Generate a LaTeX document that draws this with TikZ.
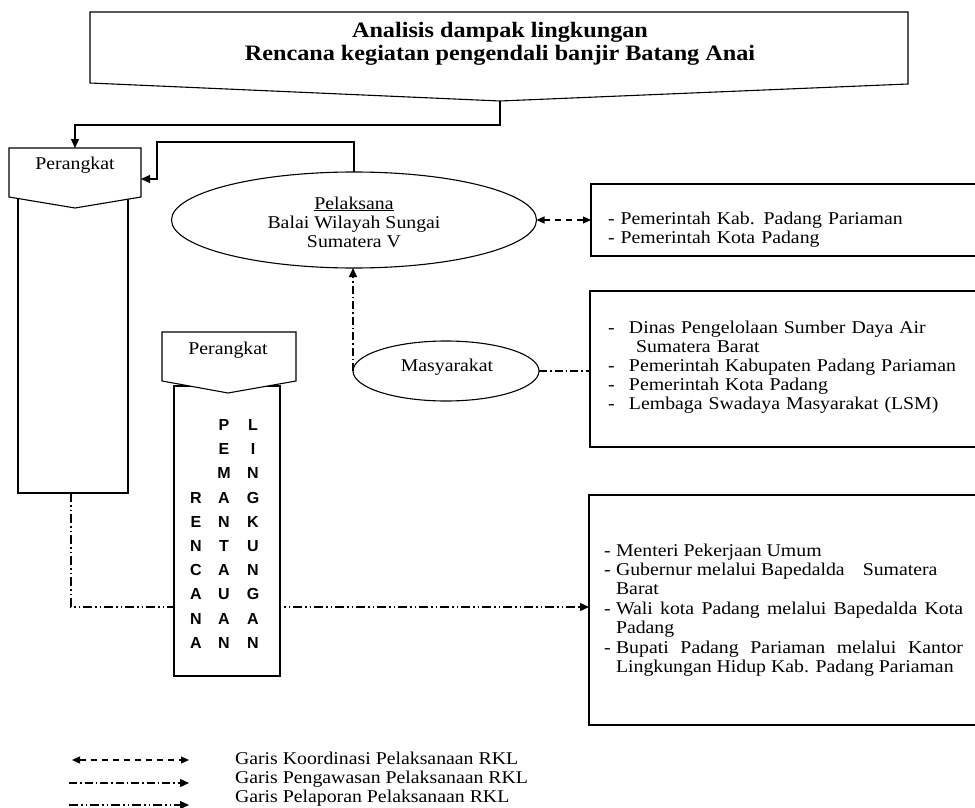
\documentclass[tikz,border=0pt]{standalone}
\usepackage{fontspec}
\setmainfont[FakeStretch=1.1]{Liberation Serif}
\newfontfamily\lettersf{Liberation Sans}
\usetikzlibrary{shapes.geometric,arrows.meta}
\begin{document}
\begin{tikzpicture}[x=1pt,y=-1pt,
  every node/.style={inner sep=0pt,outer sep=0pt},
  ln/.style={line width=1.1pt},
  txt/.style={font=\fontsize{18}{19}\selectfont},
  tip/.style={-{Triangle[length=9pt,width=8pt]}},
  dtip/.style={{Triangle[length=8pt,width=7pt]}-{Triangle[length=8pt,width=7pt]}},
  koord/.style={ln,dash pattern=on 6pt off 5pt},
  awas/.style={ln,dash pattern=on 8pt off 3pt on 1.5pt off 3pt},
  lapor/.style={ln,dash pattern=on 9pt off 3pt on 1.5pt off 3pt on 1.5pt off 3pt},
  letter/.style={font=\lettersf\bfseries\fontsize{16}{16}\selectfont},
  rbox/.style={draw,ln,anchor=north west}
]
\clip (0,0) rectangle (975,808);
\fill[white] (0,0) rectangle (975,808);

% top box
\coordinate (tb) at (500,101);
\draw[ln] (90,12) -- (908,12) -- (908,84) -- (tb) -- (90,83) -- cycle;
\node[font=\bfseries\fontsize{22}{23}\selectfont,align=center] (title) at (500,44)
  {Analisis dampak lingkungan\\Rencana kegiatan pengendali banjir Batang Anai};

% right boxes
\node[rbox,minimum width=400,minimum height=72] (b1) at (591,184) {};
\node[rbox,minimum width=400,minimum height=156] (b2) at (590,291) {};
\node[rbox,minimum width=400,minimum height=230] (b3) at (589,495) {};

\node[txt,text width=350pt,align=left,anchor=base west] (b1t) at (608,224)
  {- Pemerintah Kab. Padang Pariaman\\- Pemerintah Kota Padang};
\node[txt,text width=350pt,align=left,anchor=base west] (b2t) at (608,333)
  {\makebox[21pt][l]{-}Dinas Pengelolaan Sumber Daya Air\\
   \hspace*{28pt}Sumatera Barat\\
   \makebox[21pt][l]{-}Pemerintah Kabupaten Padang Pariaman\\
   \makebox[21pt][l]{-}Pemerintah Kota Padang\\
   \makebox[21pt][l]{-}Lembaga Swadaya Masyarakat (LSM)};
\node[font=\fontsize{18}{19.4}\selectfont,text width=359pt,align=justify,anchor=base west] (b3t) at (604,556)
  {\makebox[12pt][l]{-}Menteri Pekerjaan Umum\par
   \hangindent=12pt\hangafter=1 \makebox[12pt][l]{-}Gubernur melalui Bapedalda\hspace{18pt}Sumatera\newline Barat\par
   \hangindent=12pt\hangafter=1 \makebox[12pt][l]{-}Wali kota Padang melalui Bapedalda Kota\linebreak Padang\par
   \hangindent=12pt\hangafter=1 \makebox[12pt][l]{-}Bupati Padang Pariaman melalui Kantor\linebreak Lingkungan Hidup Kab. Padang Pariaman\par};

% ellipses
\node[ellipse,draw,ln,minimum width=365,minimum height=96] (pel) at (354,220) {};
\node[txt,align=center] (pelt) at (354,222)
  {\underline{Pelaksana}\\Balai Wilayah Sungai\\Sumatera V};
\node[ellipse,draw,ln,minimum width=186,minimum height=60] (mas) at (446,371) {};
\node[txt] (mast) at (447,367) {Masyarakat};

% Perangkat 1
\node[draw,ln,fill=white,minimum width=110,minimum height=298,anchor=north west] (p1col) at (18,195) {};
\draw[ln,fill=white] (9,148) -- (141,148) -- (141,197) -- (75,208) -- (9,197) -- cycle;
\coordinate (p1top) at (75,148);
\coordinate (p1r) at (141,179);
\node[txt] (p1t) at (75,165) {Perangkat};

% connectors
\draw[ln,tip] (tb) -- (500,125) -| (p1top);
\draw[ln,tip] (pel.north) |- (157,142) |- (p1r);
\draw[koord,dtip] (pel.east) -- (pel.east -| b1.west);
\draw[awas,tip] (mas.west) -- (mas.west |- pel.south);
\draw[awas] (mas.east) -- (mas.east -| b2.west);
\draw[lapor,tip] ([xshift=-2pt]p1col.south) |- ([yshift=3pt]b3.west);

% Perangkat 2
\node[draw,ln,fill=white,minimum width=106,minimum height=290,anchor=north west] (p2col) at (174,386) {};
\draw[ln,fill=white] (162,332) -- (296,332) -- (296,381) -- (228,393) -- (162,381) -- cycle;
\node[txt] (p2t) at (228,350) {Perangkat};

\foreach \ch [count=\i] in {R,E,N,C,A,N,A}
  \node[letter] (ra\i) at (196,{425+(\i+2)*24.2}) {\ch};
\foreach \ch [count=\i] in {P,E,M,A,N,T,A,U,A,N}
  \node[letter] (pm\i) at (224,{425+(\i-1)*24.2}) {\ch};
\foreach \ch [count=\i] in {L,I,N,G,K,U,N,G,A,N}
  \node[letter] (li\i) at (253,{425+(\i-1)*24.2}) {\ch};

% legend
\coordinate (k1) at (72,760); \coordinate (k2) at (189,760);
\coordinate (a1) at (69,783); \coordinate (a2) at (189,783);
\coordinate (l1) at (69,805); \coordinate (l2) at (189,805);
\draw[koord,dtip] (k1) -- (k2);
\draw[awas,tip] (a1) -- (a2);
\draw[lapor,tip] (l1) -- (l2);
\node[txt,anchor=base west] (g1) at (235,764) {Garis Koordinasi Pelaksanaan RKL};
\node[txt,anchor=base west] (g2) at (235,783) {Garis Pengawasan Pelaksanaan RKL};
\node[txt,anchor=base west] (g3) at (235,802) {Garis Pelaporan Pelaksanaan RKL};
\end{tikzpicture}
\end{document}
